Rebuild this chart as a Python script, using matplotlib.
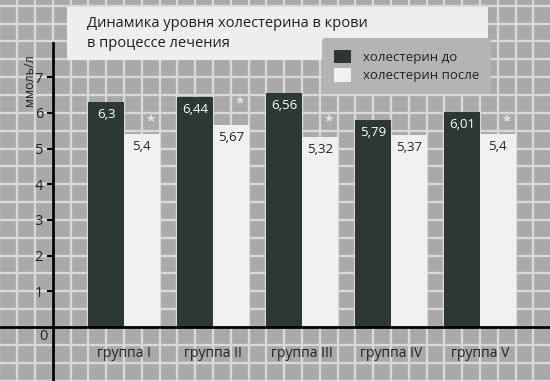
import numpy as np
import matplotlib
matplotlib.use('Agg')
from matplotlib import pyplot as plt
from matplotlib.patches import Patch, Rectangle

plt.rcParams['font.family'] = ['Open Sans', 'DejaVu Sans']

groups = ['группа I', 'группа II', 'группа III', 'группа IV', 'группа V']
chol_before = [6.3, 6.44, 6.56, 5.79, 6.01]
chol_after = [5.4, 5.67, 5.32, 5.37, 5.4]
# asterisk marks above the "after" bars (None = no mark)
star_level = [5.75, 6.25, 5.75, None, 5.75]

dark = '#2c3833'
light = '#f0f0f0'
cell = '#a9a9a9'
gridc = '#d9d9d9'

fig = plt.figure(figsize=(5.5, 3.81), dpi=100)
ax = fig.add_axes([0, 0, 1, 1])
ax.set_facecolor(cell)
fig.patch.set_facecolor(cell)

x = np.arange(len(groups))
w = 0.4
ax.bar(x - w / 2, chol_before, w, color=dark, zorder=3)
ax.bar(x + w / 2, chol_after, w, color=light, zorder=3)

for i in range(len(groups)):
    ax.annotate(f'{chol_before[i]:g}'.replace('.', ','), (x[i] - w / 2, chol_before[i]),
                xytext=(0, -9), textcoords='offset points', ha='center', va='center',
                color='white', fontsize=9.5, zorder=4)
    ax.annotate(f'{chol_after[i]:g}'.replace('.', ','), (x[i] + w / 2, chol_after[i]),
                xytext=(0, -9), textcoords='offset points', ha='center', va='center',
                color='#222222', fontsize=9.5, zorder=4)
    if star_level[i] is not None:
        ax.text(x[i] + 0.3, star_level[i], '*', ha='center', va='center',
                color='#e6e6e6', fontsize=11, fontweight='bold', zorder=4)

ax.set_xlim(-1.393, 4.787)
ax.set_ylim(-1.513, 9.16)

# grid of squares behind everything
ax.vlines(np.arange(-1.4, 4.81, 0.2), -2, 10, color=gridc, lw=1.7, zorder=1)
ax.hlines(np.arange(-1.5, 9.2, 0.5), -2, 5, color=gridc, lw=1.7, zorder=1)

ax.set_xticks(x)
ax.set_xticklabels(groups)
ax.set_yticks(range(1, 8))
ax.tick_params(axis='x', length=0, pad=14, labelsize=10, labelcolor='#222222')
ax.tick_params(axis='y', length=4, width=1.5, pad=3, labelsize=10.5, labelcolor='#222222')

for s in ['top', 'right']:
    ax.spines[s].set_visible(False)
ax.spines['left'].set_position(('data', -0.8))
ax.spines['left'].set_bounds(-1.6, 7.95)
ax.spines['bottom'].set_position(('data', 0))
for s in ['left', 'bottom']:
    ax.spines[s].set_linewidth(2)
    ax.spines[s].set_zorder(5)

ax.text(-0.86, -0.28, '0', ha='right', va='center', fontsize=10.5, color='#222222')
fig.text(29 / 550, 1 - 80 / 381, 'ммоль/л', rotation=90, ha='center', va='center',
         fontsize=9, color='#222222')

# title box
ax.add_patch(Rectangle((67 / 550, 1 - 60 / 381), 421 / 550, 53 / 381,
                       transform=fig.transFigure, facecolor='#eeeeee', edgecolor='none',
                       zorder=8, clip_on=False))
fig.text(87 / 550, 1 - 16 / 381, 'Динамика уровня холестерина в крови\nв процессе лечения',
         ha='left', va='top', fontsize=10.5, color='#1e1e1e', linespacing=1.45, zorder=9)

handles = [Patch(facecolor=dark), Patch(facecolor=light)]
leg = ax.legend(handles, ['холестерин до', 'холестерин после'], loc='upper left',
                bbox_to_anchor=(322 / 550, 1 - 38 / 381), bbox_transform=fig.transFigure,
                fontsize=9.5, frameon=True, facecolor='#b4b4b4', edgecolor='none',
                framealpha=1, handlelength=1.3, handleheight=1.2, labelspacing=0.3,
                borderpad=0.9, handletextpad=0.9, borderaxespad=0)
leg.set_zorder(10)
for t in leg.get_texts():
    t.set_color('#222222')

fig.savefig('out.png', dpi=100)
